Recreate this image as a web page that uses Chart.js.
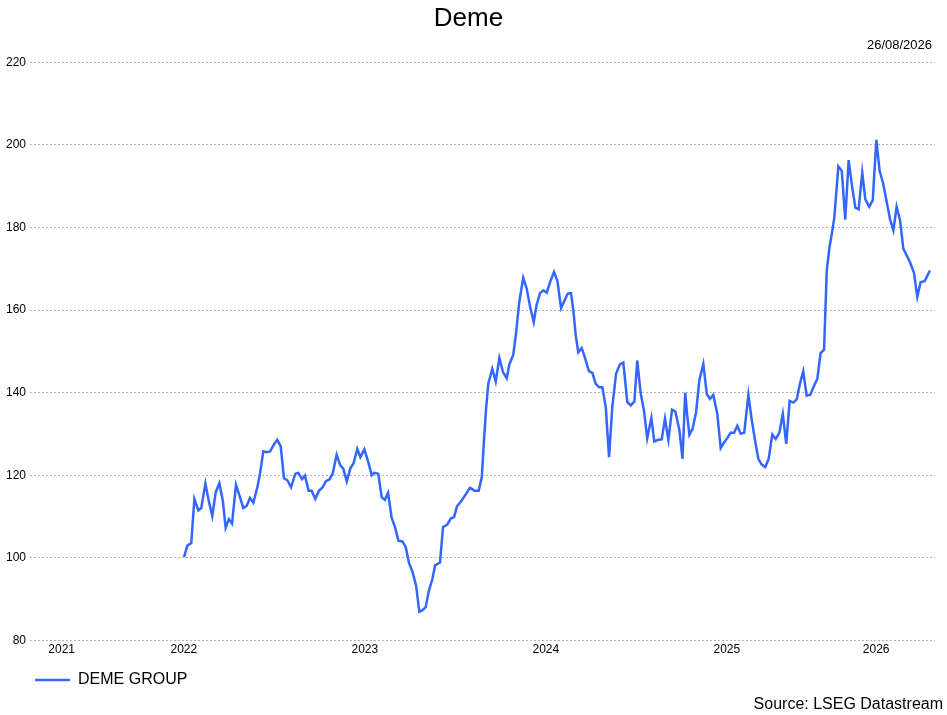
<!DOCTYPE html>
<html lang="en">
<head>
    <meta charset="UTF-8">
    <title>Deme</title>
    <script src="https://cdn.jsdelivr.net/npm/chart.js"></script>
    <style>
        html, body { margin: 0; padding: 0; background: #fff; }
        #wrap { width: 947px; height: 715px; }
    </style>
</head>
<body>
    <div id="wrap"><canvas id="demeChart"></canvas></div>

    <script>
        // decimal years and rebased price
        const dates = [
            2022.501, 2022.519, 2022.541, 2022.558, 2022.580, 2022.596, 2022.619, 2022.637, 2022.657, 2022.676,
            2022.696, 2022.715, 2022.731, 2022.749, 2022.766, 2022.788, 2022.810, 2022.828, 2022.847, 2022.865,
            2022.884, 2022.906, 2022.921, 2022.939, 2022.958, 2022.976, 2022.998, 2023.016, 2023.035, 2023.053,
            2023.072, 2023.092, 2023.116, 2023.132, 2023.153, 2023.169, 2023.189, 2023.206, 2023.226, 2023.247,
            2023.265, 2023.285, 2023.304, 2023.322, 2023.344, 2023.364, 2023.381, 2023.400, 2023.420, 2023.438,
            2023.458, 2023.475, 2023.497, 2023.519, 2023.538, 2023.552, 2023.574, 2023.593, 2023.611, 2023.628,
            2023.648, 2023.667, 2023.685, 2023.707, 2023.726, 2023.744, 2023.764, 2023.783, 2023.801, 2023.817,
            2023.836, 2023.854, 2023.873, 2023.888, 2023.915, 2023.932, 2023.954, 2023.976, 2023.993, 2024.009,
            2024.035, 2024.059, 2024.081, 2024.105, 2024.129, 2024.146, 2024.158, 2024.169, 2024.182, 2024.204,
            2024.223, 2024.243, 2024.263, 2024.284, 2024.298, 2024.320, 2024.335, 2024.353, 2024.375, 2024.394,
            2024.412, 2024.433, 2024.449, 2024.468, 2024.486, 2024.505, 2024.525, 2024.545, 2024.564, 2024.584,
            2024.602, 2024.621, 2024.639, 2024.652, 2024.665, 2024.679, 2024.698, 2024.716, 2024.738, 2024.757,
            2024.775, 2024.794, 2024.812, 2024.831, 2024.849, 2024.867, 2024.888, 2024.908, 2024.928, 2024.950,
            2024.969, 2024.989, 2025.005, 2025.024, 2025.042, 2025.060, 2025.083, 2025.099, 2025.121, 2025.140,
            2025.158, 2025.177, 2025.197, 2025.215, 2025.238, 2025.255, 2025.270, 2025.281, 2025.293, 2025.311,
            2025.330, 2025.348, 2025.370, 2025.389, 2025.407, 2025.425, 2025.447, 2025.466, 2025.484, 2025.502,
            2025.521, 2025.540, 2025.558, 2025.576, 2025.596, 2025.619, 2025.637, 2025.656, 2025.674, 2025.693,
            2025.712, 2025.731, 2025.751, 2025.770, 2025.790, 2025.809, 2025.828, 2025.847, 2025.867, 2025.886,
            2025.904, 2025.922, 2025.941, 2025.961, 2025.983, 2026.000, 2026.018, 2026.037, 2026.052, 2026.066,
            2026.083, 2026.094, 2026.116, 2026.135, 2026.154, 2026.173, 2026.191, 2026.210, 2026.228, 2026.248,
            2026.265, 2026.287, 2026.306, 2026.326, 2026.344, 2026.364, 2026.383, 2026.401, 2026.420, 2026.438,
            2026.457, 2026.475, 2026.494, 2026.512, 2026.534, 2026.552, 2026.571, 2026.593, 2026.622
        ];
        const demeGroup = [
            100.2, 103.0, 103.6, 114.3, 111.5, 112.1, 118.0, 113.9, 110.2, 115.9,
            118.1, 113.9, 107.3, 109.4, 108.3, 117.7, 114.7, 112.1, 112.6, 114.5,
            113.4, 117.1, 120.5, 125.8, 125.6, 125.8, 127.5, 128.6, 127.0, 119.3,
            118.8, 117.1, 120.4, 120.6, 119.1, 119.9, 116.3, 116.3, 114.3, 116.3,
            117.0, 118.6, 119.0, 120.4, 125.0, 122.4, 121.6, 118.5, 121.7, 123.0,
            126.4, 124.4, 126.3, 123.2, 120.0, 120.6, 120.4, 114.7, 114.1, 115.8,
            109.7, 107.4, 104.2, 104.0, 102.6, 98.8, 96.5, 93.3, 87.0, 87.3,
            88.1, 92.1, 94.9, 98.2, 98.9, 107.5, 108.0, 109.6, 109.9, 112.5,
            113.9, 115.5, 117.0, 116.3, 116.3, 119.6, 128.4, 135.7, 142.2, 145.8,
            142.7, 148.4, 145.0, 143.5, 146.8, 149.2, 154.3, 161.9, 167.8, 165.2,
            161.0, 157.1, 161.3, 164.1, 164.8, 164.2, 167.0, 169.2, 167.0, 160.5,
            162.2, 164.0, 164.1, 159.9, 153.9, 149.8, 150.8, 148.5, 145.2, 144.8,
            142.2, 141.3, 141.3, 136.5, 124.4, 136.5, 144.6, 146.8, 147.3, 137.7,
            136.9, 137.9, 147.8, 139.8, 135.7, 129.0, 133.9, 128.2, 128.6, 128.7,
            133.7, 128.6, 135.9, 135.5, 130.9, 124.0, 140.0, 134.5, 129.8, 131.3,
            135.3, 143.0, 147.0, 139.7, 138.5, 139.5, 134.9, 126.6, 127.9, 129.0,
            130.3, 130.3, 132.0, 130.1, 130.3, 139.5, 133.5, 128.4, 124.0, 122.6,
            122.0, 124.0, 129.9, 128.8, 130.3, 134.9, 127.6, 138.0, 137.6, 138.4,
            142.2, 145.2, 139.3, 139.5, 141.8, 143.4, 149.6, 150.4, 169.6, 174.9,
            179.3, 182.5, 194.8, 193.7, 181.9, 196.3, 190.2, 184.8, 184.4, 193.3,
            186.8, 185.0, 186.6, 201.2, 193.7, 190.6, 186.2, 182.1, 179.3, 185.0,
            181.7, 174.9, 173.2, 171.6, 169.0, 163.2, 166.8, 167.0, 169.6
        ];
        const yearLabels = [2021, 2022, 2023, 2024, 2025, 2026];
        const xStart = 2021.65;   // 26/08/2021
        const xEnd = 2026.65;     // 26/08/2026
        const yTicks = [80, 100, 120, 140, 160, 180, 200, 220];
        const seriesName = 'DEME GROUP';
        const chartTitle = 'Deme';
        const asOfDate = '26/08/2026';
        const sourceText = 'Source: LSEG Datastream';

        const FONT = "'Liberation Sans', Arial, sans-serif";
        const BLUE = 'rgb(51, 102, 255)';

        // date above the plot (top right) and source line (bottom right)
        const notesPlugin = {
            id: 'notes',
            afterDraw(chart) {
                const ctx = chart.ctx;
                ctx.save();
                ctx.fillStyle = '#000';
                ctx.textAlign = 'right';
                ctx.textBaseline = 'middle';
                ctx.font = '13px ' + FONT;
                ctx.fillText(asOfDate, chart.chartArea.right - 3, 45);
                ctx.font = '16px ' + FONT;
                ctx.fillText(sourceText, chart.width - 4, 705);
                ctx.restore();
            }
        };

        const points = dates.map((d, i) => ({ x: d, y: demeGroup[i] }));

        new Chart(document.getElementById('demeChart'), {
            type: 'line',
            data: {
                datasets: [{
                    label: seriesName,
                    data: points,
                    borderColor: BLUE,
                    backgroundColor: BLUE,
                    borderWidth: 2.5,
                    pointRadius: 0,
                    pointStyle: 'line',
                    tension: 0,
                    fill: false
                }]
            },
            options: {
                responsive: true,
                maintainAspectRatio: false,
                animation: false,
                layout: { padding: { left: 2, right: 12, top: 0, bottom: 17 } },
                plugins: {
                    title: {
                        display: true,
                        text: chartTitle,
                        color: '#000',
                        font: { family: FONT, size: 26, weight: 'normal' },
                        padding: { top: 3, bottom: 28 }
                    },
                    legend: {
                        position: 'bottom',
                        align: 'start',
                        fullSize: false,
                        labels: {
                            color: '#000',
                            font: { family: FONT, size: 16 },
                            usePointStyle: true,
                            pointStyle: 'line',
                            pointStyleWidth: 35,
                            padding: 5
                        }
                    },
                    tooltip: { enabled: false }
                },
                scales: {
                    x: {
                        type: 'linear',
                        min: xStart,
                        max: xEnd,
                        afterBuildTicks(axis) {
                            // each year label sits in the middle of its visible span
                            axis.ticks = yearLabels.map(y => ({
                                value: (Math.max(y, xStart) + Math.min(y + 1, xEnd)) / 2
                            }));
                        },
                        afterFit(axis) {
                            axis.height += 8;
                        },
                        ticks: {
                            color: '#000',
                            font: { family: FONT, size: 12 },
                            maxRotation: 0,
                            padding: 2,
                            callback: v => String(Math.floor(v))
                        },
                        grid: { display: false, drawTicks: false },
                        border: { display: false }
                    },
                    y: {
                        min: 80,
                        max: 220,
                        afterBuildTicks(axis) {
                            axis.ticks = yTicks.map(v => ({ value: v }));
                        },
                        ticks: {
                            color: '#000',
                            font: { family: FONT, size: 12 },
                            padding: 4
                        },
                        grid: {
                            color: '#b4b4b4',
                            lineWidth: 1,
                            drawTicks: false
                        },
                        border: { display: false, dash: [2, 2] }
                    }
                }
            },
            plugins: [notesPlugin]
        });
    </script>
</body>
</html>
